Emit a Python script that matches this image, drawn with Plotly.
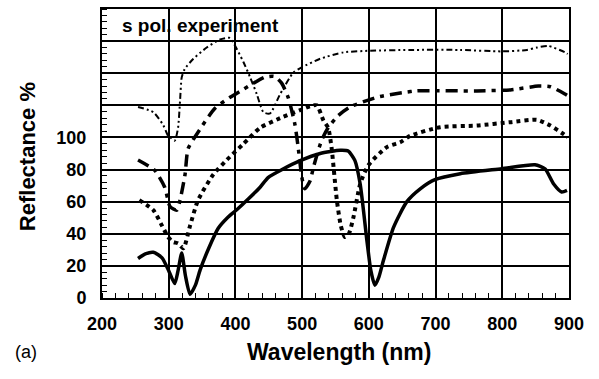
import plotly.graph_objects as go

# ---- data ----
wl_solid = [254, 265, 277, 290, 300, 309, 314, 319.5, 325, 332, 340, 347, 360, 374, 388, 402, 420, 437, 449,
            470, 497, 527, 557, 569, 579, 587, 597, 603, 609, 615, 622, 637, 657, 677, 699, 737, 799, 849,
            864, 877, 889, 897]
r_solid = [24.6, 27.5, 28.5, 25, 17, 9, 17, 28, 14, 2.3, 8, 17.4, 31, 43.3, 50, 55, 62, 69, 75,
           80, 85.5, 90, 92, 91.5, 85.7, 71, 36, 17, 8, 13, 23.6, 44, 60, 68, 73.7, 77.4, 80.5, 83,
           80.5, 71, 66, 67]

wl_dot = [256, 277, 290, 299, 306, 314, 322, 332, 344, 367, 387, 412, 437, 467, 497, 512, 522, 532, 539,
          544, 552, 558, 564, 570, 577, 587, 599, 627, 647, 662, 707, 762, 812, 852, 872, 892, 898]
r_dot = [61, 54.7, 45, 38, 35, 34, 31, 45, 61, 77, 86, 96, 106, 112, 117, 119.5, 120, 110.5, 106,
         94, 61, 45, 38, 40, 50.5, 71, 82.6, 94, 97, 101, 106.4, 107.4, 109.5, 111, 107.4, 102, 100]

wl_dashdot = [254, 279, 294, 302, 312, 317, 324.5, 329, 342, 369, 392, 412, 444, 458, 469, 479, 489, 494,
              499.5, 504, 512, 517, 529, 539, 554, 572, 612, 652, 672, 762, 812, 854, 872, 894, 898]
r_dashdot = [86, 79.5, 69, 57, 54.7, 61, 77, 93, 102, 118, 125, 130, 137.5, 138, 134, 125, 108.5, 94,
             75.3, 68, 73, 81.5, 98, 106, 113.6, 119, 125, 128, 129, 129, 129.6, 132, 131.6, 127, 126]

wl_top = [254, 277, 292, 299, 303, 309, 314, 317, 319.5, 324, 337, 357, 377, 392, 397, 412, 422, 432,
          442, 452, 467, 487, 499, 527, 562, 602, 662, 737, 799, 837, 852, 869, 894, 898]
r_top = [119, 115.7, 107.5, 101, 99.8, 98, 106, 123, 137.4, 142.6, 149, 156, 161, 162, 159, 147, 137.5, 127,
         115.7, 115, 127, 140.5, 143.6, 149, 153, 154, 154.5, 154.5, 153.6, 154.5, 156, 157, 153, 152]

x_ticks = [200, 300, 400, 500, 600, 700, 800, 900]
x_ticktext = ["200", "300", "400", "500", "600", "700", "800", "900"]
y_ticks = [0, 20, 40, 60, 80, 100, 120, 140, 160, 180]
y_ticktext = ["0", "20", "40", "60", "80", "100", "", "", "", ""]

FONT = "Liberation Sans"

fig = go.Figure()
fig.add_trace(go.Scatter(x=wl_top, y=r_top, mode="lines",
                         line=dict(color="black", width=2, dash="6px,3px,2px,3px,2px,3px",
                                   shape="spline", smoothing=0.6)))
fig.add_trace(go.Scatter(x=wl_dashdot, y=r_dashdot, mode="lines",
                         line=dict(color="black", width=3.5, dash="12px,6px,4px,6px",
                                   shape="spline", smoothing=0.6)))
fig.add_trace(go.Scatter(x=wl_dot, y=r_dot, mode="lines",
                         line=dict(color="black", width=4, dash="4px,4px",
                                   shape="spline", smoothing=0.6)))
fig.add_trace(go.Scatter(x=wl_solid, y=r_solid, mode="lines",
                         line=dict(color="black", width=3.5, shape="spline", smoothing=0.6)))

fig.update_layout(
    width=599, height=379,
    margin=dict(l=102, r=30, t=7, b=81),
    plot_bgcolor="white", paper_bgcolor="white",
    showlegend=False,
    font=dict(family=FONT, color="black"),
)

fig.update_xaxes(
    range=[200, 900], tickmode="array", tickvals=x_ticks, ticktext=x_ticktext,
    showgrid=True, gridcolor="black", gridwidth=1.5,
    showline=True, linecolor="black", linewidth=2, mirror=True,
    ticks="", zeroline=False,
    ticklabelstandoff=8,
    tickfont=dict(family=FONT, size=18, weight="bold", color="black"),
    minor=dict(tick0=200, dtick=20, ticks="inside", ticklen=5, tickwidth=1,
               tickcolor="black", showgrid=False),
)
fig.update_yaxes(
    range=[0, 180], tickmode="array", tickvals=y_ticks, ticktext=y_ticktext,
    showgrid=True, gridcolor="black", gridwidth=1.5,
    showline=True, linecolor="black", linewidth=2, mirror=True,
    ticks="", zeroline=False,
    ticklabelstandoff=10,
    tickfont=dict(family=FONT, size=18, weight="bold", color="black"),
    minor=dict(tick0=0, dtick=4, ticks="inside", ticklen=5, tickwidth=1,
               tickcolor="black", showgrid=False),
)

fig.add_annotation(text="s pol. experiment", xref="paper", yref="paper",
                   x=0.0385, y=0.9416, xanchor="left", yanchor="middle", showarrow=False,
                   font=dict(family=FONT, size=19, weight="bold", color="black"))
fig.add_annotation(text="Wavelength (nm)", xref="paper", yref="paper",
                   x=0.5075, y=-0.1856, xanchor="center", yanchor="middle", showarrow=False,
                   font=dict(family=FONT, size=23, weight="bold", color="black"))
fig.add_annotation(text="Reflectance %", xref="paper", yref="paper", textangle=-90,
                   x=-0.158, y=0.488, xanchor="center", yanchor="middle", showarrow=False,
                   font=dict(family=FONT, size=22, weight="bold", color="black"))
fig.add_annotation(text="(a)", xref="paper", yref="paper",
                   x=-0.163, y=-0.1856, xanchor="center", yanchor="middle", showarrow=False,
                   font=dict(family=FONT, size=18, color="black"))

fig.write_html("out.html", config={"displayModeBar": False},
               post_script="document.body.style.margin='0';document.body.style.overflow='hidden';")
